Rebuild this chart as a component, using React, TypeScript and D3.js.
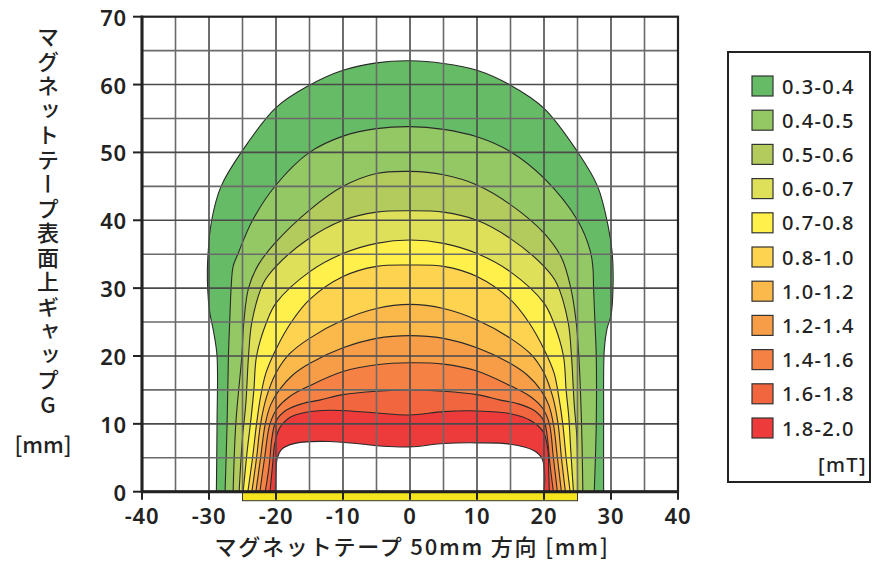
import * as d3 from 'd3';

const W = 874;
const H = 561;

// contour lines of the field [x mm, gap G mm], left foot -> top -> right foot
const c03 = [[-28.9,0],[-28.8,10],[-28.8,20],[-29.3,23.5],[-29.9,26.5],[-30.2,30],[-30.2,34],[-29.6,40],[-28.2,45],[-25.2,50],[-20,56.6],[-15,59.9],[-10,62.1],[-5,63.2],[0,63.5],[5,63.1],[10,62.1],[15,59.9],[20,56.5],[25,50.1],[28,45],[29.6,39],[30.2,35],[30.3,30],[30,26],[29.4,24],[29,21],[28.9,10],[28.9,0]];
const c04 = [[-27.6,0],[-27.3,10],[-27.1,20],[-26.9,25.3],[-26.7,30],[-26.4,33.2],[-25.7,35],[-23.5,40],[-20,45.2],[-15,50],[-10,52.4],[-5,53.5],[0,53.8],[5,53.4],[10,52.3],[15,50.1],[20,46.2],[25,40],[26.9,35.5],[27.3,33],[27.4,30],[27.6,25],[27.8,20],[27.8,10],[27.5,0]];
const c05 = [[-26.4,0],[-26,10],[-25.1,20],[-24.8,25],[-24.1,30],[-22.6,33.5],[-20,36.8],[-15,41.5],[-10,45],[-5,46.9],[0,47.2],[5,46.7],[10,45.2],[15,42.3],[20,38.1],[22.6,34.5],[24,30],[24.8,25],[25.2,20],[25.6,10],[25.8,0]];
const c06 = [[-25.5,0],[-25,8],[-24.5,13],[-24.1,20],[-23.6,25],[-21.9,30.7],[-20,33.2],[-15.4,37.1],[-10,40],[-5,41.2],[0,41.4],[5,41.2],[10,40],[15,37.3],[20,33.2],[21.9,30.7],[23.6,25],[24.1,20],[24.5,13],[24.9,8],[25,0]];
const c07 = [[-24.9,0],[-24.3,6],[-23.7,11],[-23.3,15],[-22.9,20],[-21.4,25],[-20,27.8],[-15,32.4],[-10,35.1],[-5,36.6],[0,37.1],[5,36.6],[10,35.1],[15,32.4],[20,27.8],[21.4,25],[22.9,20],[23.3,15],[23.7,11],[24,6],[24.4,0]];
const c08 = [[-24.2,0],[-23.5,5],[-22.9,10],[-22.3,14],[-21.5,17.5],[-20,21],[-17.7,25],[-15,28.3],[-10,31.7],[-5,33.2],[0,33.4],[5,33.2],[10,31.7],[15,28.3],[17.7,25],[20,21],[21.5,17.5],[22.2,14],[22.8,10],[23.3,5],[23.9,0]];
const c10 = [[-23.6,0],[-22.9,5],[-22.3,10],[-21.4,14],[-20,17.5],[-18,20.3],[-15,22.6],[-10,25.3],[-5,27],[0,27.6],[5,27],[10,25.3],[15,22.6],[18,20.3],[20,17.5],[21.3,14],[22.1,10],[22.6,5],[23.2,0]];
const c12 = [[-23,0],[-22.3,5],[-21.6,10],[-20.8,12.8],[-19.5,15],[-17.5,17.2],[-15,18.9],[-10,21.2],[-5,22.6],[0,23],[5,22.6],[10,21.2],[15,18.9],[17.5,17.2],[19.5,15],[20.7,12.8],[21.4,10],[22,5],[22.6,0]];
const c14 = [[-22.4,0],[-21.7,5],[-20.9,10],[-19.8,12.3],[-18,14],[-15,15.6],[-10,17.7],[-5,18.7],[0,19],[5,18.8],[10,17.8],[15,15.6],[18,14],[19.8,12.3],[20.8,10],[21.4,5],[22,0]];
const c16 = [[-21.6,0],[-21,4],[-20.6,8],[-20,10.4],[-18.5,12],[-16,13],[-13.5,13.5],[-10,14.3],[-5,14.8],[0,15],[5,14.8],[10,14.3],[13.5,13.5],[16,13],[18.5,12],[20,10.4],[20.5,8],[20.9,4],[21.4,0]];
const c18 = [[-20.9,0],[-20.5,4],[-20.2,7],[-19.5,9.3],[-18,10.9],[-15.5,11.7],[-12,12],[-8.9,11.9],[-5,11.6],[0,11.3],[5,11.8],[10,11.9],[15,11.5],[18,10.5],[19.9,8.8],[20.6,6],[20.7,3],[20.8,0]];
const c20 = [[-20.1,0],[-20,3],[-19.8,5],[-19.2,6.2],[-18,6.9],[-16,7.3],[-12,7.4],[-8,7.1],[-4,6.7],[0,6.6],[5,7.1],[10,7.2],[15,7],[18.4,6.1],[19.7,4.9],[20.1,2.4],[20,0]];

const contours = [c03, c04, c05, c06, c07, c08, c10, c12, c14, c16, c18, c20];
const bandLabels = ['0.3-0.4', '0.4-0.5', '0.5-0.6', '0.6-0.7', '0.7-0.8', '0.8-1.0', '1.0-1.2', '1.2-1.4', '1.4-1.6', '1.6-1.8', '1.8-2.0'];
const bandColors = ['#66bc66', '#93c864', '#b2cb5c', '#dfe05a', '#fff04c', '#fed34f', '#fbb94b', '#f89d47', '#f58244', '#f1653f', '#ed3b3c'];
const xTicks = [-40, -30, -20, -10, 0, 10, 20, 30, 40];
const yTicks = [0, 10, 20, 30, 40, 50, 60, 70];
const gridX = d3.range(-35, 40, 5);
const gridY = d3.range(5, 70, 5);
const tapeSpan = [-25, 25];
const unit = '[mT]';
const yTitle = 'マグネットテープ表面上ギャップG';
const yUnit = '[mm]';
const xTitle = 'マグネットテープ 50mm 方向 [mm]';

const x = d3.scaleLinear().domain([-40, 40]).range([142, 678]);
const y = d3.scaleLinear().domain([0, 70]).range([491.7, 16.7]);

const line = d3
  .line<number[]>()
  .x((d) => x(d[0]))
  .y((d) => y(d[1]))
  .curve(d3.curveCatmullRom.alpha(0.5));

const font = '"Noto Sans", "Noto Sans CJK JP", sans-serif';
const jpFont = '"Noto Sans CJK JP", "Noto Sans", sans-serif';

export default function App() {
  return (
    <svg
      width={W}
      height={H}
      style={{ position: 'absolute', left: 0, top: 0, background: '#fff' }}
    >
      {/* filled bands, outside in */}
      <g>
        {contours.map((c, i) => (
          <path
            key={i}
            d={line(c) + 'Z'}
            fill={i < bandColors.length ? bandColors[i] : '#fff'}
            stroke="none"
          />
        ))}
      </g>
      <g fill="none" stroke="#2a2a2a" strokeWidth={1.1}>
        {contours.map((c, i) => (
          <path key={i} d={line(c)} />
        ))}
      </g>
      <g strokeWidth={1.6}>
        {gridX.map((v) => (
          <line
            key={v}
            x1={x(v)}
            x2={x(v)}
            y1={y(0)}
            y2={y(70)}
            stroke={v % 10 === 0 ? '#4a4a4a' : '#6a6a6a'}
          />
        ))}
        {gridY.map((v) => (
          <line
            key={v}
            x1={x(-40)}
            x2={x(40)}
            y1={y(v)}
            y2={y(v)}
            stroke={v % 10 === 0 ? '#4a4a4a' : '#6a6a6a'}
          />
        ))}
      </g>
      {/* magnet tape */}
      <rect
        x={x(tapeSpan[0])}
        y={y(0)}
        width={x(tapeSpan[1]) - x(tapeSpan[0])}
        height={9}
        fill="#f4e51c"
        stroke="#333"
        strokeWidth={1}
      />
      <g stroke="#222" strokeWidth={2}>
        {xTicks.map((v) => (
          <line key={v} x1={x(v)} x2={x(v)} y1={y(0)} y2={y(0) + 8} />
        ))}
        {yTicks.map((v) => (
          <line key={v} x1={x(-40) - 9} x2={x(-40)} y1={y(v)} y2={y(v)} />
        ))}
      </g>
      <rect
        x={x(-40)}
        y={y(70)}
        width={x(40) - x(-40)}
        height={y(0) - y(70)}
        fill="none"
        stroke="#222"
        strokeWidth={2.2}
      />
      <line x1={x(-40)} x2={x(-40)} y1={y(70) - 1} y2={y(0) + 1} stroke="#222" strokeWidth={3} />
      <line x1={x(-40) - 1} x2={x(40) + 1} y1={y(0)} y2={y(0)} stroke="#222" strokeWidth={3} />

      <g fontFamily={font} fontSize={22} fontWeight={600} fill="#222" letterSpacing={0.8}>
        {xTicks.map((v) => (
          <text key={v} x={x(v)} y={y(0) + 32} textAnchor="middle">
            {v}
          </text>
        ))}
        {yTicks.map((v) => (
          <text key={v} x={x(-40) - 15} y={y(v)} textAnchor="end" dominantBaseline="central">
            {v}
          </text>
        ))}
      </g>

      {/* axis titles */}
      <text
        x={412}
        y={555}
        textAnchor="middle"
        fontFamily={jpFont}
        fontSize={22}
        fontWeight={500}
        letterSpacing={1.8}
        fill="#222"
      >
        {xTitle}
      </text>
      <text
        x={48}
        y={26}
        fontFamily={jpFont}
        fontSize={22}
        fontWeight={500}
        fill="#222"
        writingMode="vertical-rl"
        letterSpacing={2.5}
        style={{ textOrientation: 'upright' }}
      >
        {yTitle}
      </text>
      <text
        x={43}
        y={443}
        textAnchor="middle"
        dominantBaseline="central"
        fontFamily={jpFont}
        fontSize={22}
        fontWeight={500}
        fill="#222"
      >
        {yUnit}
      </text>

      {/* legend */}
      <rect x={728} y={52} width={142} height={430} fill="#fff" stroke="#222" strokeWidth={2} />
      <g fontFamily={font} fontSize={20} fontWeight={500} fill="#222" letterSpacing={1.4}>
        {bandLabels.map((t, i) => (
          <g key={t} transform={`translate(0, ${86 + i * 34.2})`}>
            <rect x={752} y={-10} width={21} height={20} fill={bandColors[i]} stroke="#333" strokeWidth={1.2} />
            <text x={782} y={0} dominantBaseline="central">
              {t}
            </text>
          </g>
        ))}
        <text x={867} y={464} textAnchor="end" dominantBaseline="central">
          {unit}
        </text>
      </g>
    </svg>
  );
}
